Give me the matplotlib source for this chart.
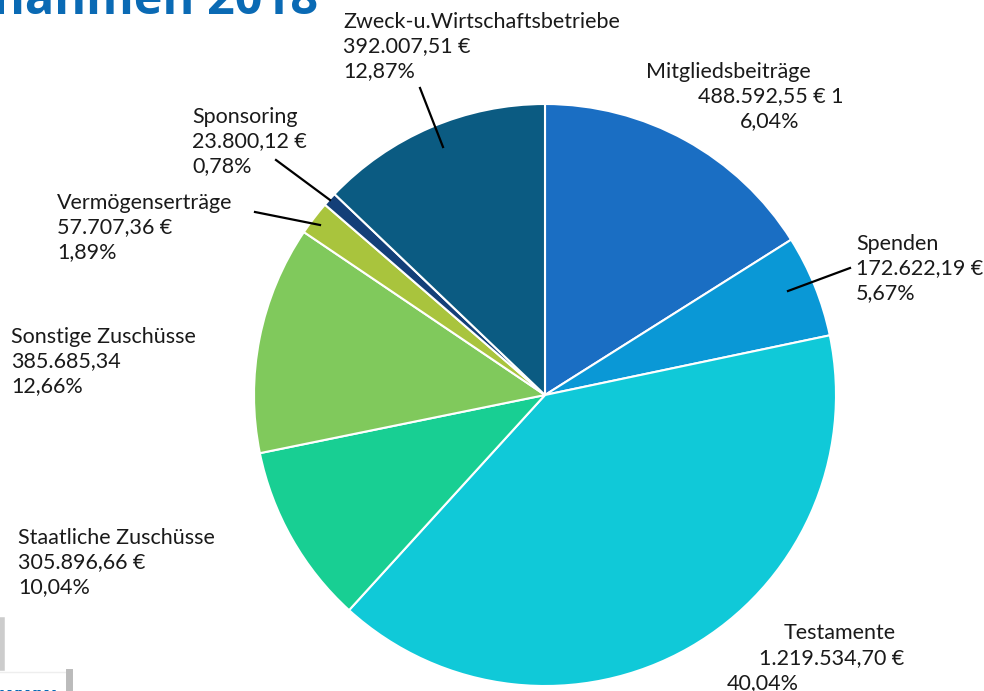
import matplotlib.pyplot as plt

# Einnahmen 2018
labels = ["Mitgliedsbeiträge", "Spenden", "Testamente", "Staatliche Zuschüsse",
          "Sonstige Zuschüsse", "Vermögenserträge", "Sponsoring",
          "Zweck-u.Wirtschaftsbetriebe"]
shares = [16.04, 5.67, 40.04, 10.04, 12.66, 1.89, 0.78, 12.87]
amounts = ["488.592,55 € 1", "172.622,19 €", "1.219.534,70 €", "305.896,66 €",
           "385.685,34", "57.707,36 €", "23.800,12 €", "392.007,51 €"]
pct_text = ["6,04%", "5,67%", "40,04%", "10,04%", "12,66%", "1,89%", "0,78%", "12,87%"]
colors = ["#1a6ec3", "#0a98d6", "#10c9d8", "#18cf93", "#80c95c", "#a9c43d",
          "#143f78", "#0b5b82"]

W, H = 984, 691
fig = plt.figure(figsize=(W / 100, H / 100), dpi=100)
ax = fig.add_axes([0, 0, 1, 1])

cx, cy, r = 545, H - 395, 291
ax.pie(shares, colors=colors, startangle=90, counterclock=False,
       center=(cx, cy), radius=r, frame=True,
       wedgeprops=dict(edgecolor="white", linewidth=1.5))
ax.set_xlim(0, W)
ax.set_ylim(0, H)
ax.set_aspect("equal")
ax.axis("off")

fnt = dict(family=["Lato", "DejaVu Sans"], fontsize=15.5, color="#1a1a1a")


def y(p):
    return H - p


def block(x, ytop, lines, ha="left"):
    for i, s in enumerate(lines):
        ax.text(x, y(ytop + i * 24.5), s, ha=ha, va="center", **fnt)


# labels (label / amount / percent)
block(343, 22, [labels[7], amounts[7], pct_text[7]])
ax.text(646, y(72), labels[0], ha="left", va="center", **fnt)
ax.text(771, y(96), amounts[0], ha="center", va="center", **fnt)
ax.text(770, y(121), pct_text[0], ha="center", va="center", **fnt)
block(856, 244, [labels[1], amounts[1], pct_text[1]])
ax.text(840, y(633), labels[2], ha="center", va="center", **fnt)
ax.text(832, y(658), amounts[2], ha="center", va="center", **fnt)
ax.text(727, y(683), pct_text[2], ha="left", va="center", **fnt)
block(192, 117, [labels[6], amounts[6], pct_text[6]])
block(57, 203, [labels[5], amounts[5], pct_text[5]])
block(11, 337, [labels[4], amounts[4], pct_text[4]])
block(18, 538, [labels[3], amounts[3], pct_text[3]])

# leader lines
for (x0, y0), (x1, y1) in [((420, 88), (443, 147)), ((276, 160), (330, 200)),
                           ((255, 212), (320, 225)), ((850, 268), (788, 291))]:
    ax.plot([x0, x1], [y(y0), y(y1)], color="black", linewidth=1.6)

# cropped title at the top
ax.text(318, y(14), "Einnahmen 2018", ha="right", va="baseline",
        fontsize=35, fontweight="bold", color="#0a6ab4",
        family=["Open Sans", "DejaVu Sans"])

# cropped fragment bottom left
ax.plot([2, 2], [y(620), y(668)], color="#cccccc", linewidth=4)
ax.plot([0, 66], [y(672), y(672)], color="#eeeeee", linewidth=1)
ax.plot([69, 69], [y(672), y(691)], color="#bbbbbb", linewidth=5)
ax.text(0, y(702), "www", ha="left", va="baseline", fontsize=16,
        fontweight="bold", color="#0a6ab4", family=["Open Sans", "DejaVu Sans"])

fig.savefig("out.png", dpi=100)
